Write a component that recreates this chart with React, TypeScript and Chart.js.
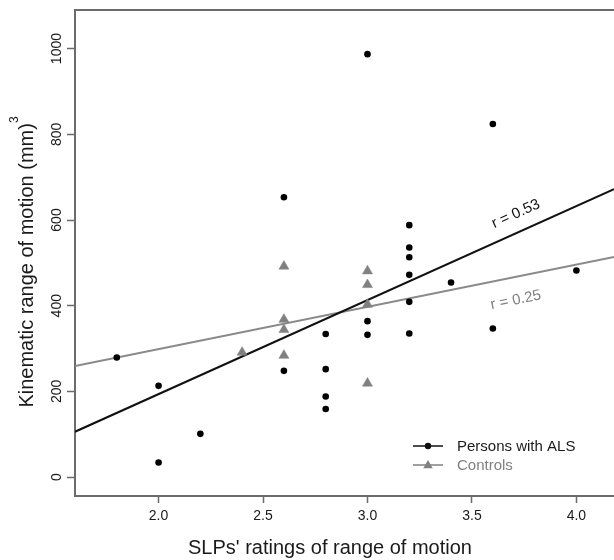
import React, { useEffect, useRef } from 'react';
import { Chart, registerables } from 'chart.js';

Chart.register(...registerables);

// ---- data ----
const alsLabel = 'Persons with ALS';
const ctrlLabel = 'Controls';
const alsX = [1.8, 2.0, 2.0, 2.2, 2.6, 2.6, 2.8, 2.8, 2.8, 2.8, 3.0, 3.0, 3.0, 3.2, 3.2, 3.2, 3.2, 3.2, 3.2, 3.4, 3.6, 3.6, 4.0];
const alsY = [279, 213, 34, 101, 653, 248, 334, 252, 188, 159, 987, 364, 332, 588, 536, 513, 472, 409, 335, 454, 824, 347, 482];
const ctrlX = [2.4, 2.6, 2.6, 2.6, 2.6, 3.0, 3.0, 3.0, 3.0];
const ctrlY = [291, 492, 368, 344, 284, 481, 449, 403, 219];
const fitX = [1.6, 4.18];
const alsFitY = [106, 672];
const ctrlFitY = [259, 514];
const rTexts = ['r = 0.53', 'r = 0.25'];
const rAnchorX = [3.71, 3.71];
const rAnchorY = [614, 413];
const xTicks = [2.0, 2.5, 3.0, 3.5, 4.0];
const yTicks = [0, 200, 400, 600, 800, 1000];
const xTitle = "SLPs' ratings of range of motion";
const yTitle = 'Kinematic range of motion (mm)';
const yTitleSup = '3';

const FONT = "'Liberation Sans', Arial, sans-serif";
const AXIS_COLOR = '#6b6b6b';
const TEXT_COLOR = '#1a1a1a';
const GRAY = '#808080';

const zip = (xs: number[], ys: number[]) => xs.map((x, i) => ({ x, y: ys[i] }));

const extrasPlugin = {
  id: 'extras',
  afterDraw(chart: any) {
    const { ctx, chartArea, scales } = chart;
    const xs = scales.x;
    const ys = scales.y;
    ctx.save();
    // top frame line
    ctx.strokeStyle = AXIS_COLOR;
    ctx.lineWidth = 2;
    ctx.beginPath();
    ctx.moveTo(chartArea.left - 1, chartArea.top);
    ctx.lineTo(chartArea.right, chartArea.top);
    ctx.stroke();

    // x title
    ctx.fillStyle = TEXT_COLOR;
    ctx.font = `20px ${FONT}`;
    ctx.textAlign = 'center';
    ctx.textBaseline = 'middle';
    ctx.fillText(xTitle, 330, 548);

    // y title with superscript
    ctx.translate(33, 262);
    ctx.rotate(-Math.PI / 2);
    ctx.font = `20px ${FONT}`;
    const mainW = ctx.measureText(yTitle).width;
    ctx.font = `12px ${FONT}`;
    const supW = ctx.measureText(yTitleSup).width;
    const total = mainW + supW;
    ctx.textBaseline = 'alphabetic';
    ctx.textAlign = 'left';
    ctx.font = `20px ${FONT}`;
    ctx.fillText(yTitle, -total / 2, 0);
    ctx.font = `12px ${FONT}`;
    ctx.fillText(yTitleSup, -total / 2 + mainW, -15);
    ctx.restore();

    // r annotations, rotated along the fit lines
    const fits = [alsFitY, ctrlFitY];
    const colors = ['#111', GRAY];
    rTexts.forEach((t, i) => {
      const px0 = xs.getPixelForValue(fitX[0]);
      const px1 = xs.getPixelForValue(fitX[1]);
      const py0 = ys.getPixelForValue(fits[i][0]);
      const py1 = ys.getPixelForValue(fits[i][1]);
      const ang = Math.atan2(py1 - py0, px1 - px0);
      ctx.save();
      ctx.translate(xs.getPixelForValue(rAnchorX[i]), ys.getPixelForValue(rAnchorY[i]));
      ctx.rotate(ang);
      ctx.font = `15px ${FONT}`;
      ctx.fillStyle = colors[i];
      ctx.textAlign = 'center';
      ctx.textBaseline = 'middle';
      ctx.fillText(t, 0, 0);
      ctx.restore();
    });

    // legend
    const items = [
      { label: alsLabel, color: '#111', text: '#1a1a1a', style: 'circle', r: 3.2 },
      { label: ctrlLabel, color: GRAY, text: GRAY, style: 'triangle', r: 5.5 },
    ];
    const lx = 413;
    items.forEach((it, i) => {
      const y = 446 + i * 19;
      ctx.save();
      ctx.strokeStyle = it.color;
      ctx.lineWidth = 1.5;
      ctx.beginPath();
      ctx.moveTo(lx, y);
      ctx.lineTo(lx + 30, y);
      ctx.stroke();
      ctx.fillStyle = it.color;
      ctx.beginPath();
      if (it.style === 'circle') {
        ctx.arc(lx + 15, y, it.r, 0, Math.PI * 2);
      } else {
        const cx = lx + 15;
        const cy = y + 0.5;
        ctx.moveTo(cx, cy - it.r);
        ctx.lineTo(cx + it.r * 0.866, cy + it.r * 0.5);
        ctx.lineTo(cx - it.r * 0.866, cy + it.r * 0.5);
        ctx.closePath();
      }
      ctx.fill();
      ctx.font = `15px ${FONT}`;
      ctx.fillStyle = it.text;
      ctx.textAlign = 'left';
      ctx.textBaseline = 'middle';
      ctx.fillText(it.label, lx + 44, y + 1);
      ctx.restore();
    });
  },
};

export default function App() {
  const ref = useRef<HTMLCanvasElement | null>(null);

  useEffect(() => {
    if (!ref.current) return;
    const chart = new Chart(ref.current, {
      type: 'scatter',
      data: {
        datasets: [
          {
            type: 'line',
            label: 'ALS fit',
            data: zip(fitX, alsFitY),
            borderColor: '#111',
            borderWidth: 2,
            pointRadius: 0,
            fill: false,
            order: 3,
          } as any,
          {
            type: 'line',
            label: 'Controls fit',
            data: zip(fitX, ctrlFitY),
            borderColor: '#8a8a8a',
            borderWidth: 2,
            pointRadius: 0,
            fill: false,
            order: 4,
          } as any,
          {
            label: ctrlLabel,
            data: zip(ctrlX, ctrlY),
            pointStyle: 'triangle',
            pointRadius: 5.8,
            pointBackgroundColor: GRAY,
            pointBorderColor: GRAY,
            pointBorderWidth: 0.5,
            order: 2,
          },
          {
            label: alsLabel,
            data: zip(alsX, alsY),
            pointStyle: 'circle',
            pointRadius: 3.3,
            pointBackgroundColor: '#000',
            pointBorderColor: '#000',
            pointBorderWidth: 0,
            order: 1,
          },
        ],
      },
      options: {
        responsive: false,
        maintainAspectRatio: false,
        animation: false,
        layout: { autoPadding: false, padding: { top: 10, right: 0, bottom: 0, left: 0 } },
        plugins: {
          legend: { display: false },
          tooltip: { enabled: false },
        },
        scales: {
          x: {
            type: 'linear',
            position: 'bottom',
            min: 1.6,
            max: 4.18,
            afterBuildTicks: (s: any) => {
              s.ticks = xTicks.map((v) => ({ value: v }));
            },
            afterFit: (s: any) => {
              s.height = 64;
              s.paddingRight = 0;
              s.paddingLeft = 0;
            },
            ticks: {
              autoSkip: false,
              maxRotation: 0,
              minRotation: 0,
              padding: 5,
              color: TEXT_COLOR,
              font: { size: 14, family: FONT },
              callback: (v: any) => Number(v).toFixed(1),
            },
            grid: {
              drawOnChartArea: false,
              drawTicks: true,
              tickLength: 7,
              tickWidth: 1.5,
              tickColor: AXIS_COLOR,
              color: AXIS_COLOR,
            },
            border: { display: true, color: AXIS_COLOR, width: 2 },
            title: { display: false },
          },
          y: {
            type: 'linear',
            position: 'left',
            min: -44,
            max: 1090,
            afterBuildTicks: (s: any) => {
              s.ticks = yTicks.map((v) => ({ value: v }));
            },
            afterFit: (s: any) => {
              s.width = 75;
            },
            ticks: {
              autoSkip: false,
              minRotation: 90,
              maxRotation: 90,
              crossAlign: 'center',
              padding: -5.5,
              color: TEXT_COLOR,
              font: { size: 14, family: FONT },
              callback: (v: any) => String(v),
            },
            grid: {
              drawOnChartArea: false,
              drawTicks: true,
              tickLength: 8,
              tickWidth: 1.5,
              tickColor: AXIS_COLOR,
              color: AXIS_COLOR,
            },
            border: { display: true, color: AXIS_COLOR, width: 2 },
          },
        },
      },
      plugins: [extrasPlugin],
    });
    return () => chart.destroy();
  }, []);

  return (
    <div style={{ position: 'fixed', left: 0, top: 0, width: 614, height: 560, background: '#fff' }}>
      <canvas ref={ref} width={614} height={560} style={{ display: 'block', width: 614, height: 560 }} />
    </div>
  );
}
